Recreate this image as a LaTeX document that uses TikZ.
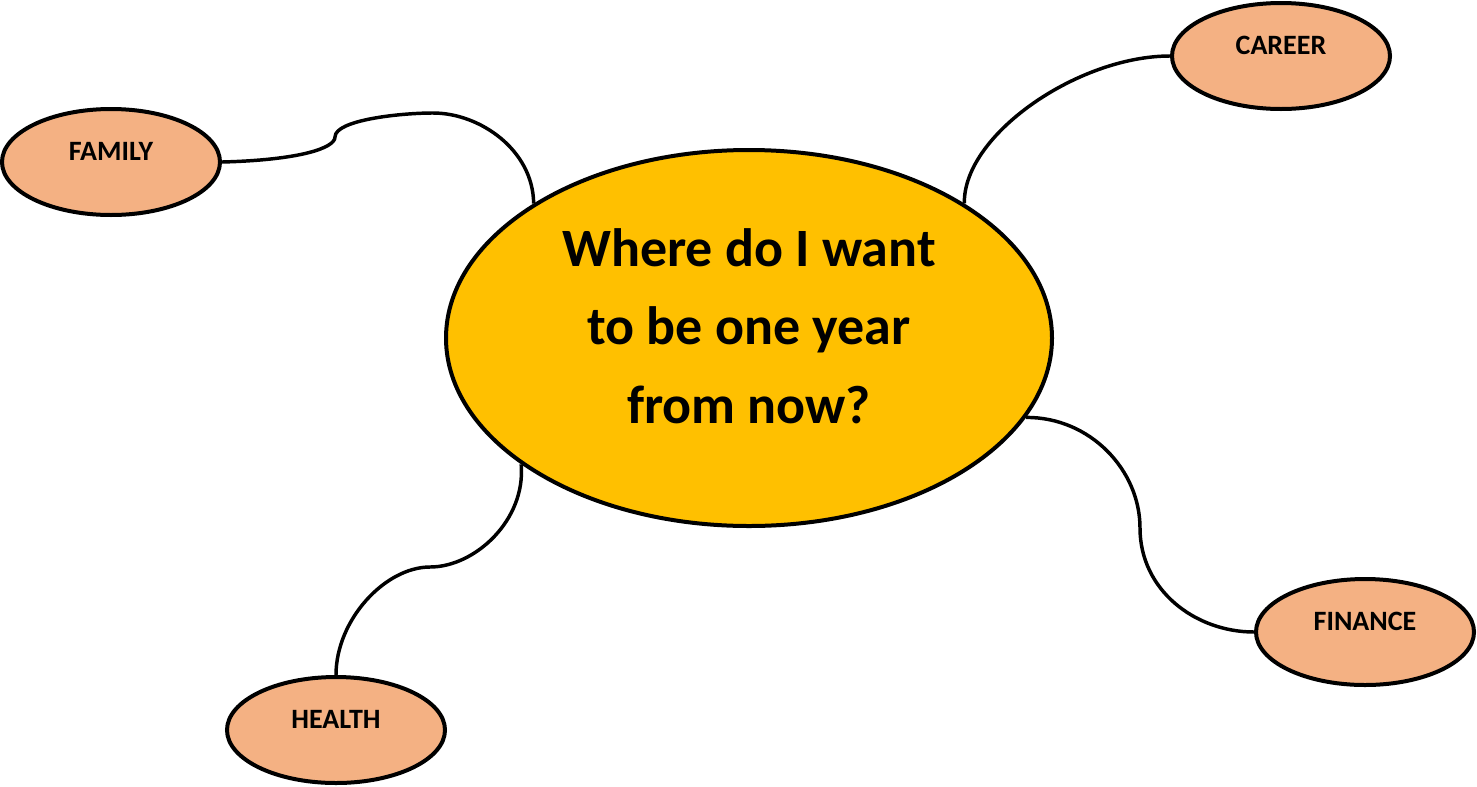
\documentclass[tikz,border=0pt]{standalone}
\usepackage{fontspec}
\setmainfont{Carlito}
\usepackage{tikz}
\usetikzlibrary{shapes.geometric}

\begin{document}
\begin{tikzpicture}[x=0.75pt,y=0.75pt,yscale=-1,xscale=1,
  goalbox/.style={draw,ellipse,line width=3pt,fill={rgb,255:red,255;green,192;blue,0},minimum width=454.5pt,minimum height=282pt,inner sep=0pt},
  goaltext/.style={inner sep=0pt,align=center,font=\bfseries\fontsize{40.5}{59}\selectfont},
  areabox/.style={draw,ellipse,line width=3pt,fill={rgb,255:red,244;green,177;blue,131},minimum width=163.5pt,minimum height=79.5pt,inner sep=0pt,text height=14pt,text depth=17pt,font=\bfseries\fontsize{21}{25}\selectfont},
  link/.style={line width=2.6pt}]
\useasboundingbox (0,0) rectangle (1477,786);

% Ellipse Node
\node [goalbox] (goal) at (749,338) {};
% Text Node
\node [goaltext] (question) at (749,326) {Where do I want\\to be one year\\from now?};
% Ellipse Node
\node [areabox] (family) at (111,162) {FAMILY};
% Ellipse Node
\node [areabox] (career) at (1281,56) {CAREER};
% Ellipse Node
\node [areabox] (finance) at (1365,632) {FINANCE};
% Ellipse Node
\node [areabox] (health) at (336,730) {HEALTH};

% Connection
\draw [link] (family.east) .. controls (300,160) and (335,148) .. (335,137) .. controls (335,120) and (400,113) .. (433,113) .. controls (480,113) and (533,150) .. (goal.148);
% Connection
\draw [link] (career.west) .. controls (1078,56) and (963,135) .. (goal.32);
% Connection
\draw [link] (goal.-16) .. controls (1090,417) and (1140,470) .. (1140,528) .. controls (1140,590) and (1195,632) .. (finance.west);
% Connection
\draw [link] (goal.209) .. controls (526,520) and (475,567) .. (430,567) .. controls (385,567) and (336,620) .. (health.north);

\end{tikzpicture}
\end{document}
